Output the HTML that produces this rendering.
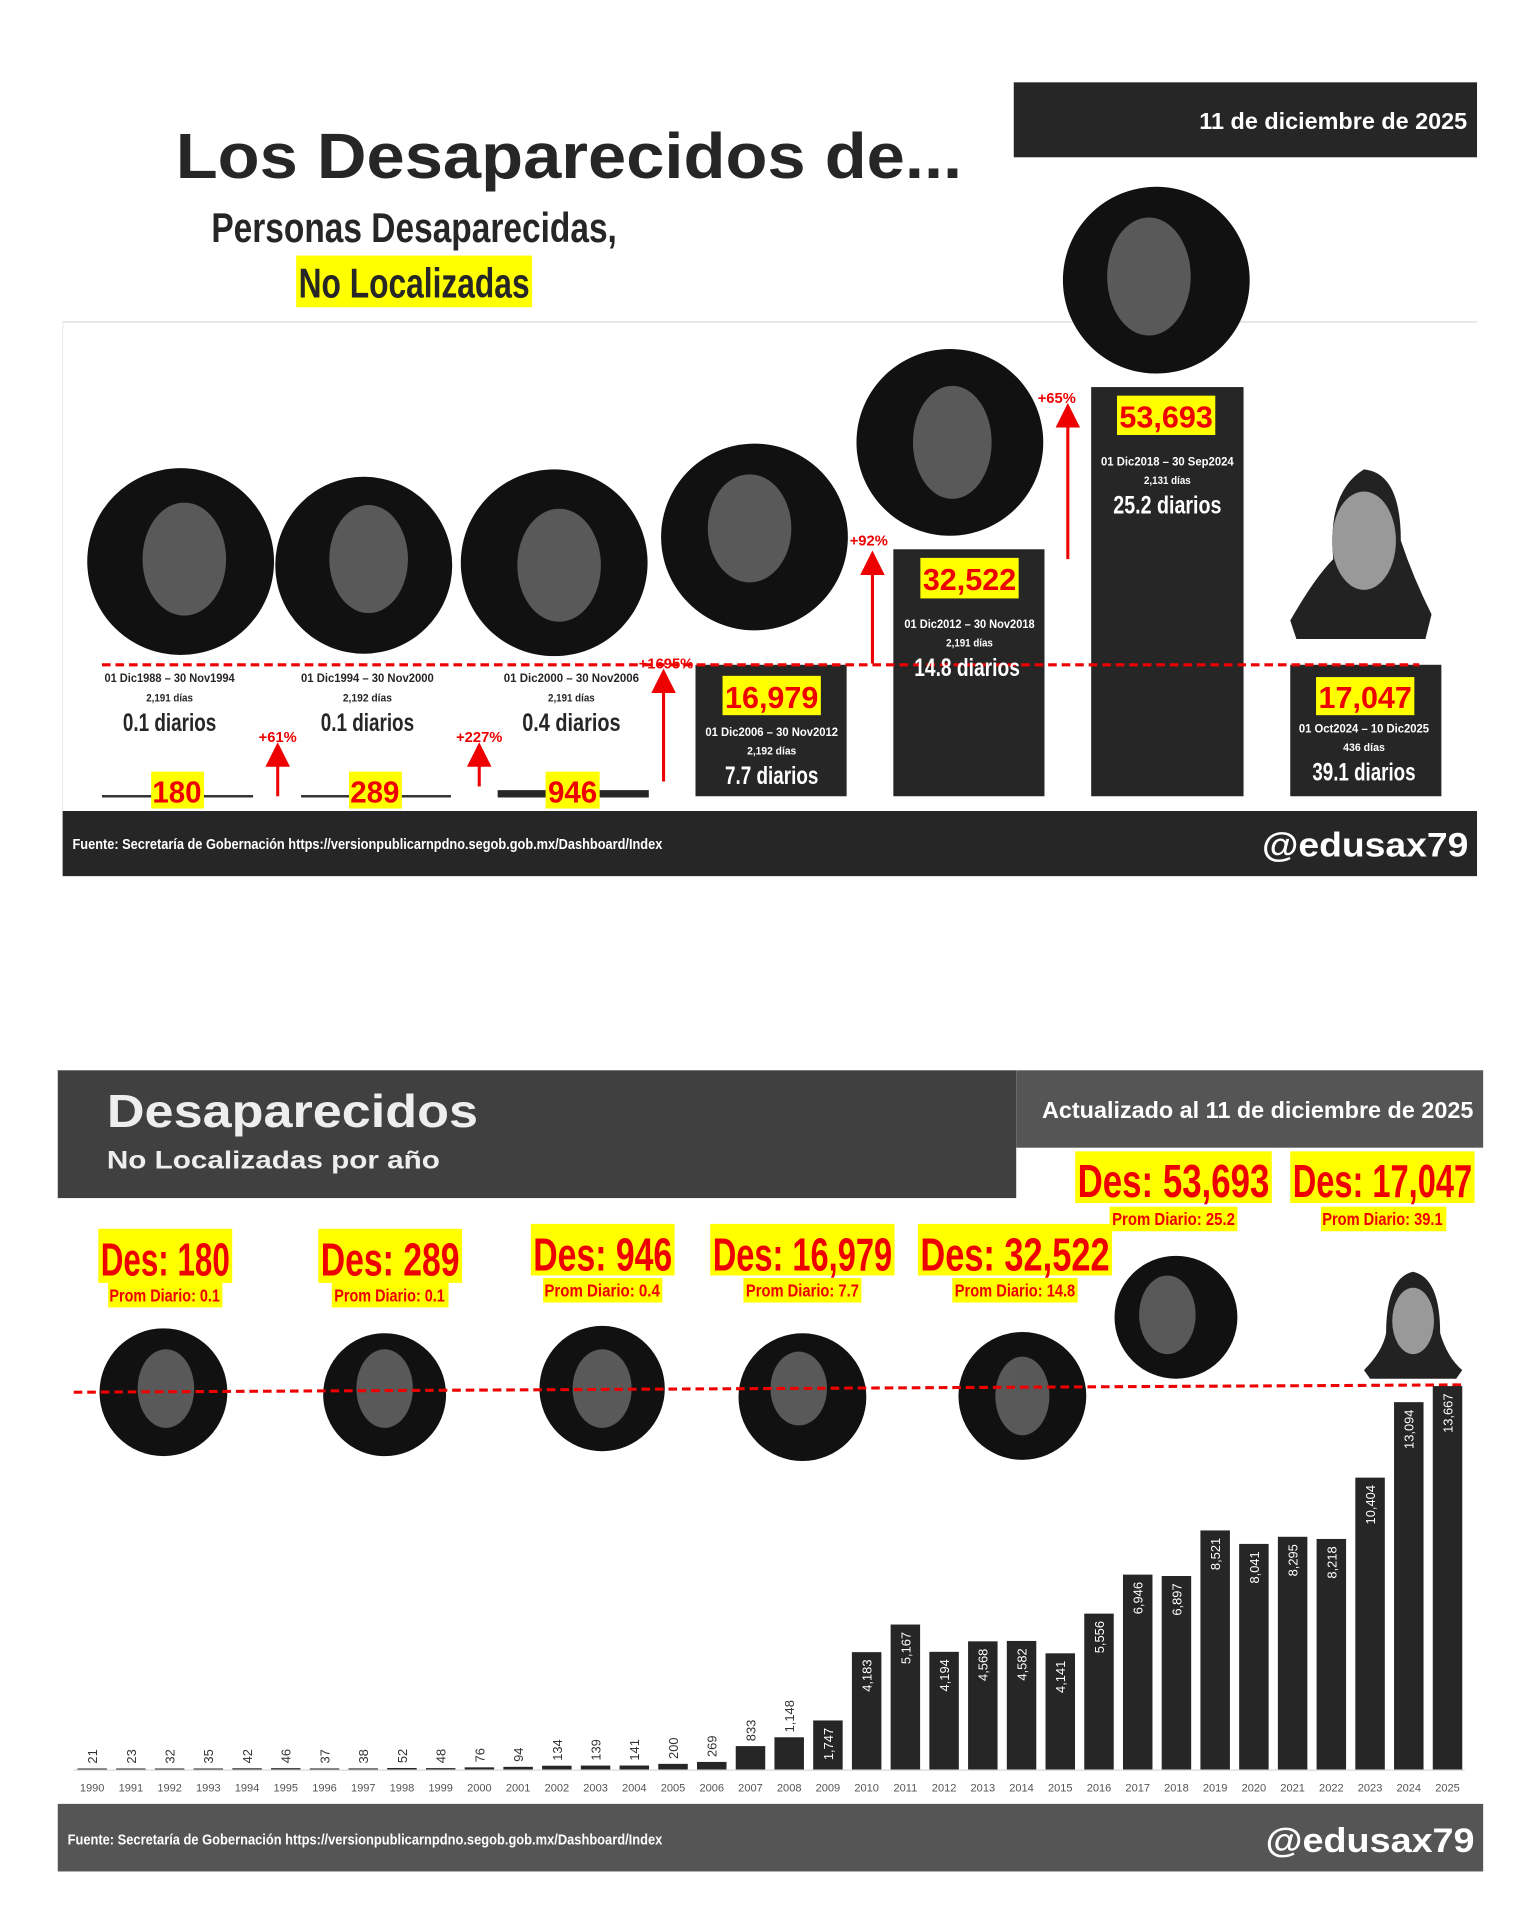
<!DOCTYPE html>
<html><head><meta charset="utf-8"><style>
html,body{margin:0;padding:0;background:#fff;}
svg{display:block;}
text{font-family:"Liberation Sans Narrow","Liberation Sans",sans-serif;font-weight:bold;}
.n{font-family:"Liberation Sans",sans-serif;}
</style></head><body>
<svg width="1536" height="1920" viewBox="0 0 1250 1562.5" xmlns="http://www.w3.org/2000/svg">
<defs>
<marker id="ah" markerWidth="8" markerHeight="8" refX="4" refY="4" orient="auto"><path d="M0,0 L8,4 L0,8 Z" fill="#e00"/></marker>
</defs>
<rect width="1250" height="1562.5" fill="#fff"/>
<rect x="825" y="67" width="377" height="61" fill="#262626"/>
<text x="1194" y="105" fill="#fff" font-size="19" text-anchor="end" textLength="218" lengthAdjust="spacingAndGlyphs">11 de diciembre de 2025</text>
<text x="143" y="145" fill="#262626" font-size="52" class="n" textLength="640" lengthAdjust="spacingAndGlyphs">Los Desaparecidos de...</text>
<text x="172" y="197" fill="#262626" font-size="34" textLength="330" lengthAdjust="spacingAndGlyphs">Personas Desaparecidas,</text>
<rect x="241" y="208" width="192" height="42" fill="#ff0"/>
<text x="243" y="242" fill="#262626" font-size="34" textLength="188" lengthAdjust="spacingAndGlyphs">No Localizadas</text>
<line x1="51" y1="262" x2="1202" y2="262" stroke="#e6e6e6" stroke-width="1.5"/>
<line x1="51" y1="262" x2="51" y2="713" stroke="#eee" stroke-width="1"/>
<g fill="#111">
<circle cx="147" cy="457" r="76"/><circle cx="296" cy="460" r="72"/><circle cx="451" cy="458" r="76"/>
<circle cx="614" cy="437" r="76"/><circle cx="773" cy="360" r="76"/><circle cx="941" cy="228" r="76"/>
</g>
<g fill="#777" opacity="0.7">
<ellipse cx="150" cy="455" rx="34" ry="46"/><ellipse cx="300" cy="455" rx="32" ry="44"/><ellipse cx="455" cy="460" rx="34" ry="46"/>
<ellipse cx="610" cy="430" rx="34" ry="44"/><ellipse cx="775" cy="360" rx="32" ry="46"/><ellipse cx="935" cy="225" rx="34" ry="48"/>
</g>
<path d="M1050,505 Q1070,470 1085,455 Q1080,400 1110,382 Q1140,385 1140,440 Q1150,470 1165,500 L1160,520 L1055,520 Z" fill="#222"/>
<ellipse cx="1110" cy="440" rx="26" ry="40" fill="#999"/>
<g fill="#262626">
<rect x="566" y="541" width="123" height="107"/><rect x="727" y="447" width="123" height="201"/>
<rect x="888" y="315" width="124" height="333"/><rect x="1050" y="541" width="123" height="107"/>
<rect x="83" y="647" width="123" height="2" fill="#333"/><rect x="245" y="647" width="122" height="2" fill="#333"/><rect x="405" y="643" width="123" height="6"/>
</g>
<line x1="83" y1="541" x2="1155" y2="541" stroke="#e00" stroke-width="2.5" stroke-dasharray="7,4"/>
<g font-size="10" fill="#262626" text-anchor="middle">
<text x="138" y="555" textLength="106" lengthAdjust="spacingAndGlyphs">01 Dic1988 – 30 Nov1994</text><text x="138" y="571" font-size="9" textLength="38" lengthAdjust="spacingAndGlyphs">2,191 días</text>
<text x="299" y="555" textLength="108" lengthAdjust="spacingAndGlyphs">01 Dic1994 – 30 Nov2000</text><text x="299" y="571" font-size="9" textLength="40" lengthAdjust="spacingAndGlyphs">2,192 días</text>
<text x="465" y="555" textLength="110" lengthAdjust="spacingAndGlyphs">01 Dic2000 – 30 Nov2006</text><text x="465" y="571" font-size="9" textLength="38" lengthAdjust="spacingAndGlyphs">2,191 días</text>
</g>
<g font-size="20" fill="#262626" text-anchor="middle">
<text x="138" y="595" textLength="76" lengthAdjust="spacingAndGlyphs">0.1 diarios</text><text x="299" y="595" textLength="76" lengthAdjust="spacingAndGlyphs">0.1 diarios</text><text x="465" y="595" textLength="80" lengthAdjust="spacingAndGlyphs">0.4 diarios</text>
</g>
<g fill="#ff0"><rect x="123" y="628" width="43" height="30"/><rect x="284" y="628" width="43" height="30"/><rect x="444" y="628" width="44" height="30"/>
<rect x="588" y="550" width="80" height="32"/><rect x="749" y="454" width="80" height="33"/><rect x="909" y="322" width="80" height="32"/><rect x="1071" y="551" width="80" height="31"/></g>
<g fill="#e00" font-size="25" text-anchor="middle">
<text x="144" y="653" textLength="40" lengthAdjust="spacingAndGlyphs">180</text><text x="305" y="653" textLength="40" lengthAdjust="spacingAndGlyphs">289</text><text x="466" y="653" textLength="40" lengthAdjust="spacingAndGlyphs">946</text>
<text x="628" y="576" textLength="76" lengthAdjust="spacingAndGlyphs">16,979</text><text x="789" y="480" textLength="76" lengthAdjust="spacingAndGlyphs">32,522</text><text x="949" y="348" textLength="76" lengthAdjust="spacingAndGlyphs">53,693</text><text x="1111" y="576" textLength="76" lengthAdjust="spacingAndGlyphs">17,047</text>
</g>
<g fill="#fff" text-anchor="middle" font-size="10">
<text x="628" y="599" textLength="108" lengthAdjust="spacingAndGlyphs">01 Dic2006 – 30 Nov2012</text><text x="628" y="614" font-size="9" textLength="40" lengthAdjust="spacingAndGlyphs">2,192 días</text><text x="628" y="638" font-size="20" textLength="76" lengthAdjust="spacingAndGlyphs">7.7 diarios</text>
<text x="789" y="511" textLength="106" lengthAdjust="spacingAndGlyphs">01 Dic2012 – 30 Nov2018</text><text x="789" y="526" font-size="9" textLength="38" lengthAdjust="spacingAndGlyphs">2,191 días</text><text x="787" y="550" font-size="20" textLength="86" lengthAdjust="spacingAndGlyphs">14.8 diarios</text>
<text x="950" y="379" textLength="108" lengthAdjust="spacingAndGlyphs">01 Dic2018 – 30 Sep2024</text><text x="950" y="394" font-size="9" textLength="38" lengthAdjust="spacingAndGlyphs">2,131 días</text><text x="950" y="418" font-size="20" textLength="88" lengthAdjust="spacingAndGlyphs">25.2 diarios</text>
<text x="1110" y="596" textLength="106" lengthAdjust="spacingAndGlyphs">01 Oct2024 – 10 Dic2025</text><text x="1110" y="611" font-size="9" textLength="34" lengthAdjust="spacingAndGlyphs">436 días</text><text x="1110" y="635" font-size="20" textLength="84" lengthAdjust="spacingAndGlyphs">39.1 diarios</text>
</g>
<g stroke="#e00" stroke-width="2.5" marker-end="url(#ah)">
<line x1="226" y1="648" x2="226" y2="614"/><line x1="390" y1="640" x2="390" y2="614"/>
<line x1="540" y1="636" x2="540" y2="554"/><line x1="710" y1="540" x2="710" y2="458"/><line x1="869" y1="455" x2="869" y2="338"/>
</g>
<g fill="#e00" font-size="12" text-anchor="middle">
<text x="226" y="604">+61%</text><text x="390" y="604">+227%</text><text x="542" y="544">+1695%</text><text x="707" y="444">+92%</text><text x="860" y="328">+65%</text>
</g>
<rect x="51" y="660" width="1151" height="53" fill="#262626"/>
<text x="59" y="691" fill="#fff" font-size="12" textLength="480" lengthAdjust="spacingAndGlyphs">Fuente: Secretaría de Gobernación https://versionpublicarnpdno.segob.gob.mx/Dashboard/Index</text>
<text x="1195" y="697" fill="#fff" font-size="28" class="n" text-anchor="end" textLength="168" lengthAdjust="spacingAndGlyphs">@edusax79</text>

<rect x="47" y="871" width="780" height="104" fill="#404040"/>
<rect x="827" y="871" width="380" height="63" fill="#555"/>
<text x="87" y="917" fill="#eee" font-size="38" class="n" textLength="302" lengthAdjust="spacingAndGlyphs">Desaparecidos</text>
<text x="87" y="951" fill="#eee" font-size="20" class="n" textLength="271" lengthAdjust="spacingAndGlyphs">No Localizadas por año</text>
<text x="1199" y="910" fill="#fff" font-size="19" text-anchor="end" textLength="351" lengthAdjust="spacingAndGlyphs">Actualizado al 11 de diciembre de 2025</text>
<g fill="#ff0">
<rect x="80" y="1000" width="109" height="44"/><rect x="259" y="1000" width="117" height="44"/><rect x="432" y="996" width="117" height="42"/>
<rect x="578" y="996" width="150" height="42"/><rect x="747" y="996" width="158" height="42"/><rect x="875" y="937" width="160" height="42"/><rect x="1050" y="937" width="150" height="42"/>
<rect x="88" y="1044" width="93" height="20"/><rect x="270" y="1044" width="95" height="20"/><rect x="442" y="1040" width="97" height="20"/><rect x="605" y="1040" width="96" height="20"/><rect x="775" y="1040" width="102" height="20"/><rect x="903" y="982" width="104" height="20"/><rect x="1075" y="982" width="102" height="20"/>
</g>
<g fill="#e00" font-size="38">
<text x="82" y="1038" textLength="105" lengthAdjust="spacingAndGlyphs">Des: 180</text>
<text x="261" y="1038" textLength="113" lengthAdjust="spacingAndGlyphs">Des: 289</text>
<text x="434" y="1034" textLength="113" lengthAdjust="spacingAndGlyphs">Des: 946</text>
<text x="580" y="1034" textLength="146" lengthAdjust="spacingAndGlyphs">Des: 16,979</text>
<text x="749" y="1034" textLength="154" lengthAdjust="spacingAndGlyphs">Des: 32,522</text>
<text x="877" y="974" textLength="156" lengthAdjust="spacingAndGlyphs">Des: 53,693</text>
<text x="1052" y="974" textLength="146" lengthAdjust="spacingAndGlyphs">Des: 17,047</text>
</g>
<g fill="#e00" font-size="14" text-anchor="middle">
<text x="134" y="1059" textLength="90" lengthAdjust="spacingAndGlyphs">Prom Diario: 0.1</text><text x="317" y="1059" textLength="90" lengthAdjust="spacingAndGlyphs">Prom Diario: 0.1</text><text x="490" y="1055" textLength="94" lengthAdjust="spacingAndGlyphs">Prom Diario: 0.4</text>
<text x="653" y="1055" textLength="92" lengthAdjust="spacingAndGlyphs">Prom Diario: 7.7</text><text x="826" y="1055" textLength="98" lengthAdjust="spacingAndGlyphs">Prom Diario: 14.8</text><text x="955" y="997" textLength="100" lengthAdjust="spacingAndGlyphs">Prom Diario: 25.2</text><text x="1125" y="997" textLength="98" lengthAdjust="spacingAndGlyphs">Prom Diario: 39.1</text>
</g>
<g fill="#111">
<circle cx="133" cy="1133" r="52"/><circle cx="313" cy="1135" r="50"/><circle cx="490" cy="1130" r="51"/>
<circle cx="653" cy="1137" r="52"/><circle cx="832" cy="1136" r="52"/><circle cx="957" cy="1072" r="50"/>
</g>
<g fill="#777" opacity="0.7">
<ellipse cx="135" cy="1130" rx="23" ry="32"/><ellipse cx="313" cy="1130" rx="23" ry="32"/><ellipse cx="490" cy="1130" rx="24" ry="32"/>
<ellipse cx="650" cy="1130" rx="23" ry="30"/><ellipse cx="832" cy="1136" rx="22" ry="32"/><ellipse cx="950" cy="1070" rx="23" ry="32"/>
</g>
<path d="M1110,1115 Q1125,1100 1128,1085 Q1128,1040 1150,1035 Q1172,1040 1172,1085 Q1178,1105 1190,1115 L1185,1122 L1115,1122 Z" fill="#222"/>
<ellipse cx="1150" cy="1075" rx="17" ry="27" fill="#999"/>
<line x1="60" y1="1133" x2="1190" y2="1127" stroke="#e00" stroke-width="2.5" stroke-dasharray="7,4"/>
<g id="bars"></g>
<rect x="47" y="1468" width="1160" height="55" fill="#555"/>
<text x="55" y="1501" fill="#fff" font-size="12" textLength="484" lengthAdjust="spacingAndGlyphs">Fuente: Secretaría de Gobernación https://versionpublicarnpdno.segob.gob.mx/Dashboard/Index</text>
<text x="1200" y="1507" fill="#fff" font-size="28" class="n" text-anchor="end" textLength="170" lengthAdjust="spacingAndGlyphs">@edusax79</text>
</svg>
<script>
(function(){
var v=[21,23,32,35,42,46,37,38,52,48,76,94,134,139,141,200,269,833,1148,1747,4183,5167,4194,4568,4582,4141,5556,6946,6897,8521,8041,8295,8218,10404,13094,13667];
var g=document.getElementById('bars'),s='';
var base=1440,k=312/13667;
s+='<line x1="60" y1="1440.5" x2="1192" y2="1440.5" stroke="#d9d9d9" stroke-width="1"/>';
var st='style="font-weight:normal;font-family:\'Liberation Sans\',sans-serif"';
for(var i=0;i<v.length;i++){
 var cx=75+i*31.514,h=Math.max(v[i]*k,0.8),top=base-h;
 s+='<rect x="'+(cx-12)+'" y="'+top+'" width="24" height="'+h+'" fill="#262626"/>';
 var lab=v[i].toLocaleString('en-US');
 if(v[i]>=1700){
  s+='<text '+st+' x="'+(cx+4)+'" y="'+(top+6)+'" transform="rotate(-90 '+(cx+4)+' '+(top+6)+')" text-anchor="end" font-size="10.5" fill="#fff">'+lab+'</text>';
 }else{
  s+='<text '+st+' x="'+(cx+4)+'" y="'+(top-4)+'" transform="rotate(-90 '+(cx+4)+' '+(top-4)+')" text-anchor="start" font-size="10.5" fill="#333">'+lab+'</text>';
 }
 s+='<text '+st+' x="'+cx+'" y="1458" text-anchor="middle" font-size="9" fill="#555">'+(1990+i)+'</text>';
}
g.innerHTML=s;
})();
</script>
</body></html>
